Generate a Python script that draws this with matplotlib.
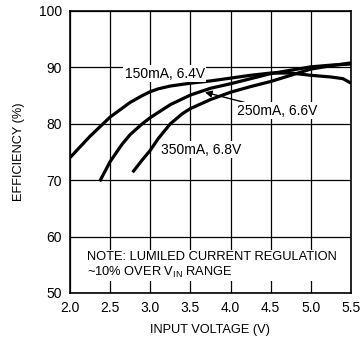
import matplotlib
matplotlib.use('Agg')
import matplotlib.pyplot as plt

plt.rcParams['font.family'] = ['Liberation Sans', 'DejaVu Sans']

# efficiency curves
v_150 = [2.0, 2.25, 2.5, 2.75, 2.9, 3.0, 3.1, 3.25, 3.5, 3.75, 4.0, 4.25, 4.5, 4.75, 5.0, 5.25, 5.4, 5.5]
eff_150 = [74.0, 77.8, 81.2, 83.8, 85.0, 85.7, 86.2, 86.7, 87.2, 87.6, 88.1, 88.6, 89.0, 89.0, 88.6, 88.3, 88.0, 87.2]

v_250 = [2.37, 2.5, 2.65, 2.75, 2.9, 3.0, 3.25, 3.5, 3.75, 4.0, 4.25, 4.5, 4.75, 5.0, 5.25, 5.5]
eff_250 = [69.8, 73.3, 76.4, 78.1, 80.0, 81.1, 83.4, 85.1, 86.3, 87.1, 88.0, 88.9, 89.5, 90.1, 90.4, 90.6]

v_350 = [2.78, 2.9, 3.0, 3.1, 3.25, 3.4, 3.5, 3.75, 4.0, 4.25, 4.5, 4.75, 5.0, 5.25, 5.5]
eff_350 = [71.4, 73.6, 75.3, 77.4, 80.0, 81.8, 82.7, 84.3, 85.6, 86.6, 87.5, 88.6, 89.7, 90.3, 90.8]

x_ticks = [2.0, 2.5, 3.0, 3.5, 4.0, 4.5, 5.0, 5.5]
y_ticks = [50, 60, 70, 80, 90, 100]

fig = plt.figure(figsize=(3.64, 3.39), dpi=100)
ax = fig.add_axes([70/364, 46/339, 281/364, 282/339])

for v, e in [(v_150, eff_150), (v_250, eff_250), (v_350, eff_350)]:
    ax.plot(v, e, color='black', lw=2.3, solid_capstyle='butt', solid_joinstyle='round')

ax.set_xlim(2.0, 5.5)
ax.set_ylim(50, 100)
ax.set_xticks(x_ticks)
ax.set_yticks(y_ticks)
ax.set_xticklabels(['%.1f' % v for v in x_ticks])
ax.grid(True, color='black', lw=0.9)
ax.set_axisbelow(True)
ax.tick_params(length=0, labelsize=10, pad=6)
for s in ax.spines.values():
    s.set_linewidth(1.2)

ax.set_xlabel('INPUT VOLTAGE (V)', fontsize=9.2, labelpad=6)
ax.set_ylabel('EFFICIENCY (%)', fontsize=9.2, labelpad=10)

ax.text(3.18, 88.9, '150mA, 6.4V', fontsize=10, ha='center', va='center',
        bbox=dict(facecolor='white', edgecolor='none', pad=1))
ax.annotate('250mA, 6.6V', xy=(3.68, 85.6), xytext=(4.08, 82.3), fontsize=10,
            ha='left', va='center',
            bbox=dict(facecolor='white', edgecolor='none', pad=1),
            arrowprops=dict(arrowstyle='-|>', color='black', lw=1, mutation_scale=10,
                            shrinkA=0, shrinkB=0))
ax.text(3.63, 75.4, '350mA, 6.8V', fontsize=10, ha='center', va='center',
        bbox=dict(facecolor='white', edgecolor='none', pad=1))

ax.text(2.21, 57.5, 'NOTE: LUMILED CURRENT REGULATION\n~10% OVER V$_{\\mathregular{IN}}$ RANGE',
        fontsize=9.3, ha='left', va='top', linespacing=1.2,
        bbox=dict(facecolor='white', edgecolor='none', pad=1))

fig.savefig('out.png', dpi=100)
